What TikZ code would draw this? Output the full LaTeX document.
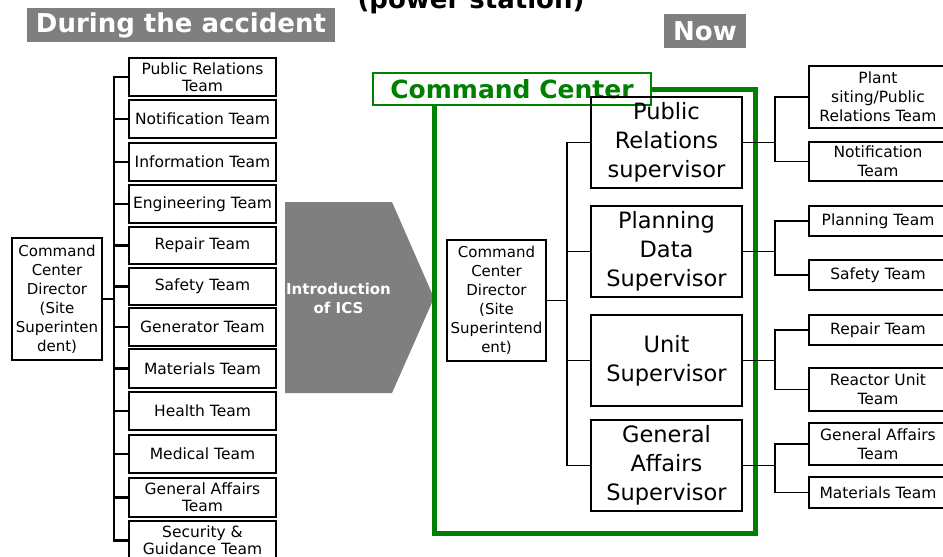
\documentclass[tikz,border=0pt]{standalone}
\usepackage{fontspec}
\setmainfont{DejaVu Sans}
\usetikzlibrary{calc}
\definecolor{hdrgray}{RGB}{127,127,127}
\definecolor{ccgreen}{RGB}{0,128,0}
\tikzset{
  lbox/.style={draw, line width=1.8pt, minimum width=147pt, inner sep=0pt, align=center,
    font=\fontsize{15.5}{17}\selectfont},
  rbox/.style={draw, line width=1.6pt, minimum width=138pt, inner sep=0pt, align=center,
    font=\fontsize{15.5}{19}\selectfont},
  supbox/.style={draw, line width=1.6pt, minimum width=151pt, minimum height=91pt, inner sep=0pt, align=center,
    font=\fontsize{22.5}{29}\selectfont},
  dirbox/.style={draw, line width=1.8pt, inner sep=0pt, align=center,
    font=\fontsize{15}{19}\selectfont},
  hdr/.style={fill=hdrgray, text=white, inner sep=0pt, minimum height=34pt,
    font=\bfseries\fontsize{26}{30}\selectfont},
  lline/.style={line width=2.4pt},
  rline/.style={line width=1.6pt},
}
\begin{document}
\begin{tikzpicture}[x=1pt,y=-1pt]
\useasboundingbox (0,0) rectangle (943,557);
% title (cut off)
\node[anchor=base, font=\bfseries\fontsize{26}{30}\selectfont, inner sep=0pt] (title) at (471,8) {(power station)};
% headers
\node[hdr, minimum width=308pt] (h1) at (181,25) {During the accident};
\node[hdr, minimum width=82pt] (h2) at (705,31) {Now};

% left side
\node[dirbox, minimum width=90pt, minimum height=122pt] (d1) at (57,299) {Command\\Center\\Director\\(Site\\Superinten\\dent)};
\node[lbox, minimum height=38pt] (l1) at (202.5,77) {Public Relations\\Team};
\node[lbox, minimum height=38pt] (l2) at (202.5,119) {Notification Team};
\node[lbox, minimum height=38pt] (l3) at (202.5,162) {Information Team};
\node[lbox, minimum height=38pt] (l4) at (202.5,204) {Engineering Team};
\node[lbox, minimum height=37pt] (l5) at (202.5,245.5) {Repair Team};
\node[lbox, minimum height=37pt] (l6) at (202.5,286.5) {Safety Team};
\node[lbox, minimum height=38pt] (l7) at (202.5,327) {Generator Team};
\node[lbox, minimum height=39pt] (l8) at (202.5,368.5) {Materials Team};
\node[lbox, minimum height=38pt] (l9) at (202.5,411) {Health Team};
\node[lbox, minimum height=38pt] (l10) at (202.5,454) {Medical Team};
\node[lbox, minimum height=39pt] (l11) at (202.5,497.5) {General Affairs\\Team};
\node[lbox, minimum height=39pt] (l12) at (202.5,540.5) {Security \&\\Guidance Team};
\draw[lline] (l1.west) -- ++(-14,0) |- (l12.west);
\foreach \i in {2,...,11} {\draw[lline] (l\i.west) -- ++(-14,0);}
\draw[lline] (d1.east) -- ([xshift=-14pt]d1.east -| l1.west);

% arrow
\fill[hdrgray] (285,202) -- (392,202) -- (434,298) -- (392,393) -- (285,393) -- cycle;
\node[text=white, align=center, font=\bfseries\fontsize{15}{19}\selectfont, inner sep=0pt] (ics) at (338.5,298) {Introduction\\of ICS};

% command center frame
\draw[ccgreen, line width=5pt] (434.5,89) rectangle (755.5,533.5);
\node[draw=ccgreen, line width=1.5pt, fill=white, text=ccgreen, minimum width=278pt, minimum height=32pt, inner sep=0pt,
  font=\bfseries\fontsize{25}{30}\selectfont] (cc) at (512,89) {Command Center};

% right director and supervisors
\node[dirbox, line width=1.6pt, minimum width=99pt, minimum height=121pt] (d2) at (496.5,300.5) {Command\\Center\\Director\\(Site\\Superintend\\ent)};
\node[supbox] (s1) at (666.5,142.5) {Public\\Relations\\supervisor};
\node[supbox] (s2) at (666.5,251.5) {Planning\\Data\\Supervisor};
\node[supbox] (s3) at (666.5,360.5) {Unit\\Supervisor};
\node[supbox] (s4) at (666.5,465.5) {General\\Affairs\\Supervisor};
\draw[rline] (s1.west) -- ++(-23,0) |- (s4.west);
\draw[rline] (s2.west) -- ++(-23,0);
\draw[rline] (s3.west) -- ++(-23,0);
\draw[rline] (d2.east) -- ([xshift=-23pt]d2.east -| s1.west);

% right teams
\node[rbox, minimum height=62pt] (t1) at (878,97) {Plant\\siting/Public\\Relations Team};
\node[rbox, minimum height=39pt] (t2) at (878,161.5) {Notification\\Team};
\node[rbox, minimum height=30pt] (t3) at (878,221) {Planning Team};
\node[rbox, minimum height=30pt] (t4) at (878,275) {Safety Team};
\node[rbox, minimum height=30pt] (t5) at (878,330) {Repair Team};
\node[rbox, minimum height=43pt] (t6) at (878,389.5) {Reactor Unit\\Team};
\node[rbox, minimum height=42pt] (t7) at (878,444) {General Affairs\\Team};
\node[rbox, minimum height=31pt] (t8) at (878,492.5) {Materials Team};
\draw[rline] (t1.west) -- ++(-33,0) |- (t2.west);
\draw[rline] (t3.west) -- ++(-33,0) |- (t4.west);
\draw[rline] (t5.west) -- ++(-33,0) |- (t6.west);
\draw[rline] (t7.west) -- ++(-33,0) |- (t8.west);
\draw[rline] (s1.east) -- ([xshift=-33pt]s1.east -| t1.west);
\draw[rline] (s2.east) -- ([xshift=-33pt]s2.east -| t3.west);
\draw[rline] (s3.east) -- ([xshift=-33pt]s3.east -| t5.west);
\draw[rline] (s4.east) -- ([xshift=-33pt]s4.east -| t7.west);
\end{tikzpicture}
\end{document}
